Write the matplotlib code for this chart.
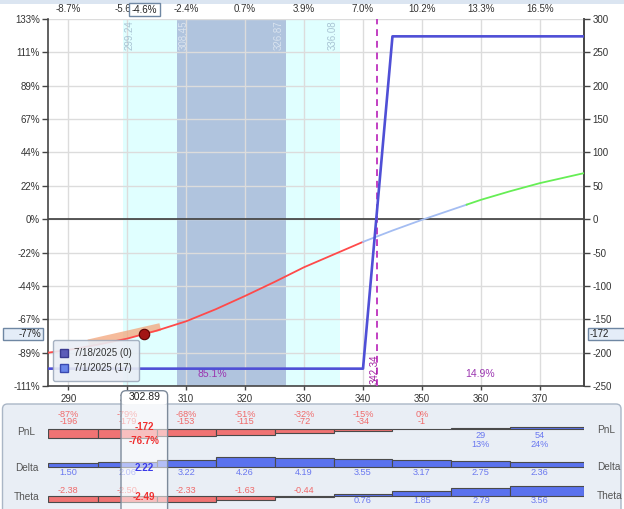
import matplotlib
matplotlib.use("Agg")
import matplotlib.pyplot as plt
import numpy as np
from matplotlib.patches import FancyBboxPatch, Rectangle
from matplotlib.lines import Line2D

plt.rcParams['font.family'] = ['Liberation Sans', 'DejaVu Sans']

W, H = 624, 509

# ---------------- data ----------------
price_ticks = [290, 300, 310, 320, 330, 340, 350, 360, 370]
move_labels = ['-8.7%', '-5.6%', '-2.4%', '0.7%', '3.9%', '7.0%', '10.2%', '13.3%', '16.5%']
pnl_ticks = [-250, -200, -150, -100, -50, 0, 50, 100, 150, 200, 250, 300]
pnl_pct_labels = ['-111%', '-89%', '-67%', '-44%', '-22%', '0%', '22%', '44%',
                  '67%', '89%', '111%', '133%']

price_min, price_max = 286.6, 377.5

# T+0 curve (7/1/2025, 17 days)
t0_price = [286.6, 290, 295, 300, 302.89, 305, 310, 315, 320, 325, 330, 335,
            340, 345, 350, 355, 360, 365, 370, 377.5]
t0_pnl = [-200, -196, -188, -179, -172, -167, -153, -135, -115, -94, -72, -53,
          -34, -17, -1, 14, 29, 42, 54, 69]

# expiration curve (7/18/2025)
exp_price = [286.6, 340, 345, 377.5]
exp_pnl = [-224, -224, 274, 274]

sd1_range = [299.24, 336.08]
sd2_range = [308.45, 326.87]
breakeven = 342.34
prob_labels = ['85.1%', '14.9%']

current_price = 302.89
current_move = '-4.6%'
current_pnl = -172
current_pnl_pct = '-76.7%'
current_delta = 2.22
current_theta = -2.49
delta_band_price = [293.4, 305.6]
delta_band_pnl = [-186, -161.5]

legend_labels = ['7/18/2025 (0)', '7/1/2025 (17)']

col_pnl = [-196, -179, -153, -115, -72, -34, -1, 29, 54]
col_pnl_pct = ['-87%', '-79%', '-68%', '-51%', '-32%', '-15%', '0%', '13%', '24%']
col_delta = [1.50, 2.06, 3.22, 4.26, 4.19, 3.55, 3.17, 2.75, 2.36]
col_theta = [-2.38, -2.50, -2.33, -1.63, -0.44, 0.76, 1.85, 2.79, 3.56]

# ---------------- style ----------------
RED_TXT = '#f06a6a'
BLUE_TXT = '#6a78f0'
RED_BAR = '#f07373'
BLUE_BAR = '#5a72ee'
PFS = 6.6
AX_L, AX_R, AX_T, AX_B = 48.3, 584, 19, 386


def fr(x0, y0, x1, y1):
    return [x0 / W, 1 - y1 / H, (x1 - x0) / W, (y1 - y0) / H]


fig = plt.figure(figsize=(W / 100, H / 100), dpi=100)
fig.patch.set_facecolor('white')

# background canvas
bg = fig.add_axes([0, 0, 1, 1], zorder=0)
bg.set_xlim(0, W); bg.set_ylim(H, 0); bg.axis('off')
bg.add_patch(Rectangle((0, 0), W, 4, fc='#dbe5f1', ec='none'))
bg.add_patch(FancyBboxPatch((2.5, 404), 618.5, 115,
                            boxstyle='round,pad=0,rounding_size=5',
                            fc='#e9eef5', ec='#aab6c6', lw=1))

# ---------------- main axes ----------------
ax = fig.add_axes(fr(AX_L, AX_T, AX_R, AX_B), zorder=2)
ax.set_xlim(price_min, price_max)
ax.set_ylim(pnl_ticks[0], pnl_ticks[-1])
ax.axvspan(*sd1_range, color='#e0ffff', zorder=0.2, lw=0)
ax.axvspan(*sd2_range, color='#b0c4de', zorder=0.3, lw=0)
ax.set_axisbelow(True)
ax.grid(True, color='#dcdcdc', lw=1)
ax.set_xticks(price_ticks)
ax.set_yticks(pnl_ticks, pnl_pct_labels)
for s in ['left', 'bottom', 'right']:
    ax.spines[s].set_color('#454545')
    ax.spines[s].set_linewidth(1.2)
ax.spines['top'].set_visible(False)
ax.tick_params(axis='y', length=4, width=1, color='#454545', labelsize=7, pad=2,
               labelcolor='#333333')
ax.tick_params(axis='x', length=3, width=1, color='#454545', labelsize=7, pad=2.5,
               labelcolor='#333333')

ry = ax.secondary_yaxis('right')
ry.set_yticks(pnl_ticks, [str(v) for v in pnl_ticks])
ry.tick_params(length=4, width=1, color='#454545', labelsize=7, pad=2, labelcolor='#333333')
ry.spines['right'].set_color('#454545')
ry.spines['right'].set_linewidth(1.2)

tx = ax.secondary_xaxis('top')
tx.set_xticks(price_ticks, move_labels)
tx.tick_params(length=0, labelsize=7, pad=3.5, labelcolor='#333333')
for s in tx.spines.values():
    s.set_visible(False)

ax.axhline(0, color='#3c3c3c', lw=1.2, zorder=1.5)
ax.axvline(breakeven, color='#c23fc2', lw=1.4, ls=(0, (3.5, 2.5)), zorder=3)

# T+0 curve, coloured by segment
seg_breaks = [price_min, 340, 357.6, price_max]
seg_colors = ['#ff4a4a', '#a4bdf2', '#66ee55']
tp = np.array(t0_price, float)
tv = np.array(t0_pnl, float)
for lo, hi, c in zip(seg_breaks[:-1], seg_breaks[1:], seg_colors):
    m = (tp > lo) & (tp < hi)
    xs = np.concatenate([[lo], tp[m], [hi]])
    ys = np.interp(xs, tp, tv)
    ax.plot(xs, ys, color=c, lw=1.3, zorder=4)

ax.plot(exp_price, exp_pnl, color='#4f4fd6', lw=1.9, zorder=5)

# std-dev band labels
ax.text(sd1_range[0] + 0.35, 298, f'{sd1_range[0]:.2f}', rotation=90, ha='left', va='top',
        fontsize=7, color='#a9c4d4')
ax.text(sd2_range[0] + 0.35, 298, f'{sd2_range[0]:.2f}', rotation=90, ha='left', va='top',
        fontsize=7, color='#d9e3ef')
ax.text(sd2_range[1] - 0.35, 298, f'{sd2_range[1]:.2f}', rotation=90, ha='right', va='top',
        fontsize=7, color='#d9e3ef')
ax.text(sd1_range[1] - 0.35, 298, f'{sd1_range[1]:.2f}', rotation=90, ha='right', va='top',
        fontsize=7, color='#a9c4d4')

ax.text(breakeven - 0.3, -247, f'{breakeven:.2f}', rotation=90, ha='center', va='bottom',
        fontsize=7, color='#a01fa0', zorder=6)
ax.text((price_min + breakeven) / 2, -231.5, prob_labels[0], ha='center', va='center',
        fontsize=7.5, color='#9b35b0')
ax.text((breakeven + price_max) / 2, -231.5, prob_labels[1], ha='center', va='center',
        fontsize=7.5, color='#9b35b0')

ax.plot(delta_band_price, delta_band_pnl, color='#f4a57a', alpha=0.75, lw=5.5,
        solid_capstyle='butt', zorder=3.5)
ax.plot([current_price], [current_pnl], 'o', ms=7.5, mfc='#a31515', mec='#5a0000',
        mew=0.8, zorder=6)

handles = [Line2D([], [], ls='none', marker='s', ms=6, mfc='#5c5cb8', mec='#3a3a90'),
           Line2D([], [], ls='none', marker='s', ms=6, mfc='#6a86ea', mec='#3a4ab0')]
leg = ax.legend(handles, legend_labels, loc='lower left', bbox_to_anchor=(0.009, 0.014),
                borderaxespad=0, fontsize=7, frameon=True, fancybox=True,
                facecolor='#e9eef5', edgecolor='#9eaabb', framealpha=0.9,
                handlelength=0.7, handletextpad=0.6, borderpad=0.8, labelspacing=0.5)
leg.get_frame().set_linewidth(1)
for t in leg.get_texts():
    t.set_color('#333333')
leg.set_zorder(7)

# ---------------- bottom panel ----------------
pax = fig.add_axes(fr(AX_L, 403, AX_R, H), zorder=3)
pax.set_xlim(price_min, price_max)
pax.set_ylim(H, 403)
pax.axis('off')
cols = np.array(price_ticks, float)
edges = np.concatenate([[price_min], (cols[:-1] + cols[1:]) / 2, [price_max]])
widths = np.diff(edges)
rows = [(col_pnl, 429.3, 9.0), (col_delta, 466.7, 9.3), (col_theta, 495.7, 9.5)]
for vals, base, hmax in rows:
    v = np.array(vals, float)
    h = -v / np.abs(v).max() * hmax
    colors = [RED_BAR if x < 0 else BLUE_BAR for x in v]
    pax.bar(edges[:-1], h, width=widths, bottom=base, align='edge', color=colors,
            edgecolor='#4a4a4a', lw=0.8)

base_pnl, base_delta, base_theta = rows[0][1], rows[1][1], rows[2][1]
for x, v, p in zip(price_ticks, col_pnl, col_pnl_pct):
    if v < 0:
        pax.text(x, base_pnl - 14.6, p, ha='center', va='center', fontsize=PFS, color=RED_TXT)
        pax.text(x, base_pnl - 7.4, str(v), ha='center', va='center', fontsize=PFS, color=RED_TXT)
    else:
        pax.text(x, base_pnl + 5.7, str(v), ha='center', va='center', fontsize=PFS, color=BLUE_TXT)
        pax.text(x, base_pnl + 15, p, ha='center', va='center', fontsize=PFS, color=BLUE_TXT)
for x, v in zip(price_ticks, col_delta):
    if v < 0:
        pax.text(x, base_delta - 6, f'{v:.2f}', ha='center', va='center', fontsize=PFS, color=RED_TXT)
    else:
        pax.text(x, base_delta + 6, f'{v:.2f}', ha='center', va='center', fontsize=PFS, color=BLUE_TXT)
for x, v in zip(price_ticks, col_theta):
    if v < 0:
        pax.text(x, base_theta - 5, f'{v:.2f}', ha='center', va='center', fontsize=PFS, color=RED_TXT)
    else:
        pax.text(x, base_theta + 5, f'{v:.2f}', ha='center', va='center', fontsize=PFS, color=BLUE_TXT)

# ---------------- overlay ----------------
ov = fig.add_axes([0, 0, 1, 1], zorder=10)
ov.set_xlim(0, W); ov.set_ylim(H, 0); ov.axis('off')

fig.canvas.draw()
cx = ax.transData.transform((current_price, 0))[0]
cy = H - ax.transData.transform((current_price, current_pnl))[1]

for lab, yy in [('PnL', 432), ('Delta', 468), ('Theta', 497)]:
    ov.text(26.5, yy, lab, ha='center', va='center', fontsize=7.2, color='#555555')
for lab, yy in [('PnL', 430), ('Delta', 467), ('Theta', 496)]:
    ov.text(597, yy, lab, ha='left', va='center', fontsize=7.2, color='#555555')

# highlighted current column
ov.add_patch(FancyBboxPatch((cx - 23.3, 390.7), 46.6, 14, boxstyle='round,pad=0,rounding_size=5',
                            fc='white', ec='none', zorder=1))
ov.add_patch(FancyBboxPatch((cx - 23.3, 390.7), 46.6, 125, boxstyle='round,pad=0,rounding_size=5',
                            fc=(1, 1, 1, 0.55), ec='#7d8a9a', lw=1, zorder=2))
ov.text(cx, 397, f'{current_price:.2f}', ha='center', va='center', fontsize=7.5,
        color='#222222', zorder=3)
ov.text(cx, 426.7, str(current_pnl), ha='center', va='center', fontsize=7,
        fontweight='bold', color='#f03030', zorder=3)
ov.text(cx, 440.7, current_pnl_pct, ha='center', va='center', fontsize=7,
        fontweight='bold', color='#f03030', zorder=3)
ov.text(cx, 468.3, f'{current_delta:.2f}', ha='center', va='center', fontsize=7,
        fontweight='bold', color='#3a3ae8', zorder=3)
ov.text(cx, 496.7, f'{current_theta:.2f}', ha='center', va='center', fontsize=7,
        fontweight='bold', color='#f03030', zorder=3)

# top move box
ov.add_patch(Rectangle((cx - 15.5, 3), 31, 13, fc='white', ec='#6f87a3', lw=1, zorder=2))
ov.text(cx, 9.7, current_move, ha='center', va='center', fontsize=7, color='#222222', zorder=3)

# current P&L boxes on both y axes
pct_short = f"{round(float(current_pnl_pct.rstrip('%'))):d}%"
ov.add_patch(Rectangle((3, cy - 6), 40, 12, fc='#e4edf8', ec='#6f87a3', lw=1, zorder=2))
ov.text(41.7, cy, pct_short, ha='right', va='center', fontsize=7, color='#222222', zorder=3)
ov.add_patch(Rectangle((588, cy - 6), 40, 12, fc='#e4edf8', ec='#6f87a3', lw=1, zorder=2))
ov.text(590, cy, str(current_pnl), ha='left', va='center', fontsize=7, color='#222222', zorder=3)

fig.savefig('out.png', dpi=100)
